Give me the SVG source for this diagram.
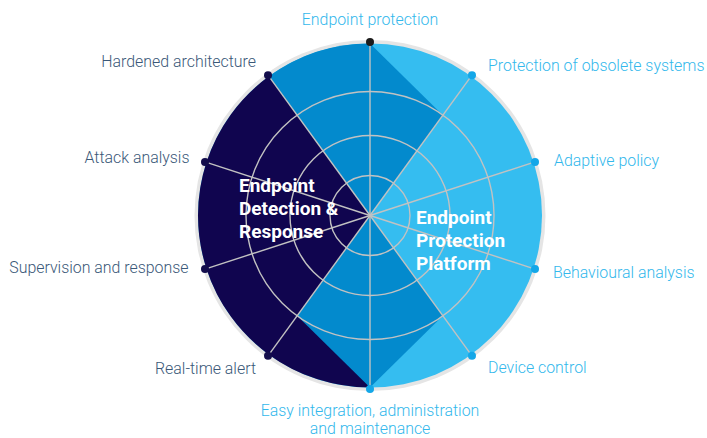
<svg xmlns="http://www.w3.org/2000/svg" width="707" height="438" viewBox="0 0 707 438">
<style>
.lbl{font-family:Roboto,"Liberation Sans",sans-serif;font-size:15.9px;font-weight:300}
.dk{fill:#3a5878}
.lt{fill:#33b8ec}
.big{font-family:Roboto,"Liberation Sans",sans-serif;font-size:19px;font-weight:700;fill:#ffffff}
.grid{fill:none;stroke:#c2c2c2;stroke-width:1.4}
.dn{fill:#130d4c}
.dl{fill:#14a7e8}
</style>
<rect width="707" height="438" fill="#ffffff"/>
<g id="wheel">
<circle cx="370" cy="215.5" r="175.5" fill="#e5e5e5"/>
<circle cx="370" cy="215.5" r="172" fill="#35bdf0"/>
<path d="M370,215.5 L370,387.5 A172,172 0 0 1 268.90,76.35 Z" fill="#10054f"/>
<path d="M370,215.5 L268.90,76.35 A172,172 0 0 1 370,43.5 L442.89,115.18 Z" fill="#038acd"/>
<path d="M370,215.5 L297.11,315.82 L370,387.5 L442.89,315.82 Z" fill="#038acd"/>
</g>
<g id="connectors">
<circle class="grid" cx="370" cy="215.5" r="40"/>
<circle class="grid" cx="370" cy="215.5" r="80"/>
<circle class="grid" cx="370" cy="215.5" r="124"/>
<line class="grid" x1="370" y1="215.5" x2="370" y2="42"/>
<line class="grid" x1="370" y1="215.5" x2="471.98" y2="75.14"/>
<line class="grid" x1="370" y1="215.5" x2="535.01" y2="161.89"/>
<line class="grid" x1="370" y1="215.5" x2="535.01" y2="269.11"/>
<line class="grid" x1="370" y1="215.5" x2="471.98" y2="355.86"/>
<line class="grid" x1="370" y1="215.5" x2="370" y2="389"/>
<line class="grid" x1="370" y1="215.5" x2="268.02" y2="355.86"/>
<line class="grid" x1="370" y1="215.5" x2="204.99" y2="269.11"/>
<line class="grid" x1="370" y1="215.5" x2="204.99" y2="161.89"/>
<line class="grid" x1="370" y1="215.5" x2="268.02" y2="75.14"/>
</g>
<g id="edr">
<text class="big" x="239" y="192">Endpoint</text>
<text class="big" x="239" y="215">Detection &amp;</text>
<text class="big" x="239" y="238">Response</text>
</g>
<g id="epp">
<text class="big" x="416" y="224">Endpoint</text>
<text class="big" x="416" y="247">Protection</text>
<text class="big" x="416" y="270">Platform</text>
</g>
<g id="n-endpoint-protection">
<circle cx="370" cy="42" r="4" fill="#1b1b1b"/>
<text class="lbl lt" x="370" y="25" text-anchor="middle">Endpoint protection</text>
</g>
<g id="n-obsolete">
<circle class="dl" cx="471.98" cy="75.14" r="4"/>
<text class="lbl lt" x="488" y="71">Protection of obsolete systems</text>
</g>
<g id="n-adaptive">
<circle class="dl" cx="535.01" cy="161.89" r="4"/>
<text class="lbl lt" x="554" y="166">Adaptive policy</text>
</g>
<g id="n-behavioural">
<circle class="dl" cx="535.01" cy="269.11" r="4"/>
<text class="lbl lt" x="553" y="278">Behavioural analysis</text>
</g>
<g id="n-device">
<circle class="dl" cx="471.98" cy="355.86" r="4"/>
<text class="lbl lt" x="488" y="373">Device control</text>
</g>
<g id="n-easy">
<circle class="dl" cx="370" cy="389" r="4"/>
<text class="lbl lt" x="370" y="416" text-anchor="middle">Easy integration, administration</text>
<text class="lbl lt" x="370" y="434" text-anchor="middle">and maintenance</text>
</g>
<g id="n-realtime">
<circle class="dn" cx="268.02" cy="355.86" r="4"/>
<text class="lbl dk" x="256" y="374" text-anchor="end">Real-time alert</text>
</g>
<g id="n-supervision">
<circle class="dn" cx="204.99" cy="269.11" r="4"/>
<text class="lbl dk" x="188.5" y="273" text-anchor="end">Supervision and response</text>
</g>
<g id="n-attack">
<circle class="dn" cx="204.99" cy="161.89" r="4"/>
<text class="lbl dk" x="189.5" y="163" text-anchor="end">Attack analysis</text>
</g>
<g id="n-hardened">
<circle class="dn" cx="268.02" cy="75.14" r="4"/>
<text class="lbl dk" x="256" y="67" text-anchor="end">Hardened architecture</text>
</g>
</svg>
